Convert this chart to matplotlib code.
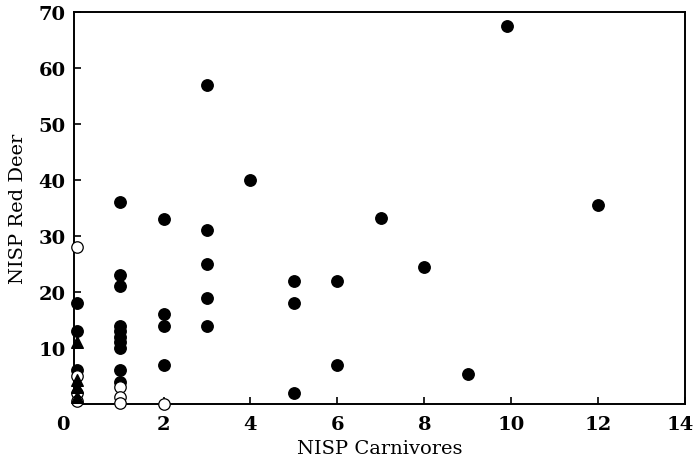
import matplotlib
matplotlib.use("Agg")
import matplotlib.pyplot as plt
from matplotlib.transforms import ScaledTranslation

# filled circles
filled_x = [0, 0, 0,
            1, 1, 1, 1, 1, 1, 1, 1, 1, 1,
            2, 2, 2, 2,
            3, 3, 3, 3, 3,
            4,
            5, 5, 5,
            6, 6,
            7, 8, 9, 9.9, 12]
filled_y = [18, 13, 6,
            36, 23, 21, 14, 13, 12, 11, 10, 6, 4,
            33, 16, 14, 7,
            57, 31, 25, 19, 14,
            40,
            22, 18, 2,
            22, 7,
            33.3, 24.5, 5.3, 67.5, 35.5]

# open circles
open_x = [0, 0, 0, 0, 1, 1, 1, 2]
open_y = [28, 5, 2, 0.6, 3, 1.3, 0.2, 0]

# triangles
tri_x = [0, 0, 0, 0]
tri_y = [11, 4.2, 3, 1.2]

xticks = [0, 2, 4, 6, 8, 10, 12, 14]
yticks = [10, 20, 30, 40, 50, 60, 70]

plt.rcParams['font.family'] = ['DejaVu Serif']

fig = plt.figure(figsize=(6.95, 4.60), dpi=100)
ax = fig.add_axes([0.1065, 0.1196, 0.8791, 0.852])

ax.scatter(filled_x, filled_y, s=68, c='black', marker='o', zorder=3, clip_on=False)
ax.scatter(open_x, open_y, s=68, facecolors='white', edgecolors='black',
           linewidths=0.9, marker='o', zorder=4, clip_on=False)
ax.scatter(tri_x, tri_y, s=70, c='black', marker='^', zorder=5, clip_on=False)

ax.set_xlim(-0.06, 14)
ax.set_ylim(0, 70)
ax.set_xticks(xticks)
ax.set_xticklabels([str(t) for t in xticks])
ax.set_yticks(yticks)
ax.set_yticklabels([str(t) for t in yticks])

ax.tick_params(direction='in', length=5, width=1.2, labelsize=14, pad=6)
ax.tick_params(axis='x', pad=8)
for lbl in ax.get_xticklabels() + ax.get_yticklabels():
    lbl.set_fontweight('bold')

# first x label sits a little to the left in the reference; last one kept inside
xl = ax.get_xticklabels()
xl[0].set_transform(xl[0].get_transform() + ScaledTranslation(-14/100, 0, fig.dpi_scale_trans))
xl[-1].set_transform(xl[-1].get_transform() + ScaledTranslation(-5/100, 0, fig.dpi_scale_trans))

for sp in ax.spines.values():
    sp.set_linewidth(1.4)

ax.set_xlabel('NISP Carnivores', fontsize=14, labelpad=4)
ax.set_ylabel('NISP Red Deer', fontsize=14, labelpad=8)

fig.savefig('out.png', dpi=100)
